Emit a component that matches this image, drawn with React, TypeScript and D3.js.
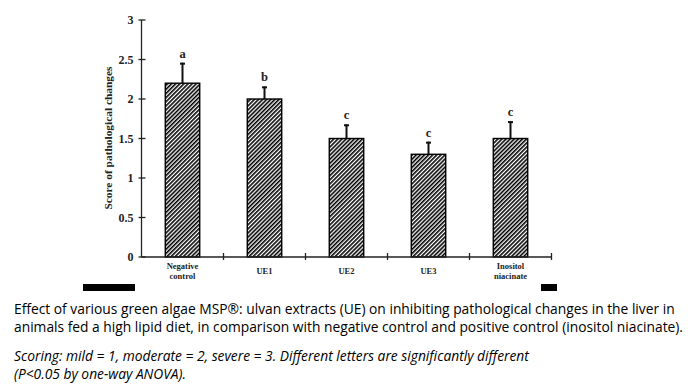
import * as d3 from "d3";

const categories = ["Negative control", "UE1", "UE2", "UE3", "Inositol niacinate"];
const labelLines = [["Negative", "control"], ["UE1"], ["UE2"], ["UE3"], ["Inositol", "niacinate"]];
const scores = [2.2, 2.0, 1.5, 1.3, 1.5];
const errors = [0.26, 0.16, 0.18, 0.16, 0.22];
const letters = ["a", "b", "c", "c", "c"];
const yTicks = [0, 0.5, 1, 1.5, 2, 2.5, 3];

const captionLines = [
  "Effect of various green algae MSP®: ulvan extracts (UE) on inhibiting pathological changes in the liver in",
  "animals fed a high lipid diet, in comparison with negative control and positive control (inositol niacinate).",
];
const noteLines = [
  "Scoring: mild = 1, moderate = 2, severe = 3. Different letters are significantly different",
  "(P<0.05 by one-way ANOVA).",
];

const WIDTH = 695;
const HEIGHT = 390;
const X0 = 141.5;
const X1 = 551.5;
const Y0 = 257;
const Y1 = 20;
const HATCH = 2.9;
const SERIF = "'Liberation Serif', 'Times New Roman', serif";
const SANS = "'Open Sans', sans-serif";

export default function App() {
  const xScale = d3.scaleBand<string>().domain(categories).range([X0, X1]);
  const yScale = d3.scaleLinear().domain([0, 3]).range([Y0, Y1]);
  const bw = xScale.bandwidth();
  const barW = bw * 0.42;

  return (
    <div style={{ position: "absolute", left: 0, top: 0 }}>
      <svg width={WIDTH} height={HEIGHT} style={{ display: "block", background: "#fff" }}>
        <defs>
          <pattern
            id="hatch"
            patternUnits="userSpaceOnUse"
            width={HATCH}
            height={HATCH}
            patternTransform="rotate(45)"
          >
            <rect width={HATCH} height={HATCH} fill="#fff" />
            <rect x={0} y={0} width={HATCH * 0.55} height={HATCH} fill="#000" />
          </pattern>
        </defs>

        {/* bars */}
        {categories.map((c, i) => {
          const cx = (xScale(c) ?? 0) + bw / 2;
          const top = yScale(scores[i]);
          const errTop = yScale(scores[i] + errors[i]);
          return (
            <g key={c}>
              <line x1={cx} x2={cx} y1={top} y2={errTop} stroke="#111" strokeWidth={2} />
              <line x1={cx - 2.5} x2={cx + 2.5} y1={errTop + 1} y2={errTop + 1} stroke="#111" strokeWidth={2} />
              <rect
                x={cx - barW / 2}
                y={top}
                width={barW}
                height={Y0 - top}
                fill="url(#hatch)"
                stroke="#000"
                strokeWidth={1.4}
              />
              <text
                x={cx}
                y={errTop - 5}
                textAnchor="middle"
                fontFamily={SERIF}
                fontWeight="bold"
                fontSize={12.5}
                fill="#222"
              >
                {letters[i]}
              </text>
              {labelLines[i].map((l, j) => (
                <text
                  key={j}
                  x={cx}
                  y={labelLines[i].length === 1 ? 273.5 : 268.5 + j * 10.5}
                  textAnchor="middle"
                  fontFamily={SERIF}
                  fontWeight="bold"
                  fontSize={8.5}
                  fill="#222"
                >
                  {l}
                </text>
              ))}
            </g>
          );
        })}

        {/* y axis */}
        <line x1={X0} x2={X0} y1={Y1} y2={Y0} stroke="#222" strokeWidth={1.3} />
        {yTicks.map((t) => (
          <g key={t} transform={`translate(0,${yScale(t)})`}>
            <line x1={X0 - 3} x2={X0 + 4} stroke="#222" strokeWidth={1.3} />
            <text
              x={X0 - 8}
              dy="0.35em"
              textAnchor="end"
              fontFamily={SERIF}
              fontWeight="bold"
              fontSize={12}
              fill="#222"
            >
              {t}
            </text>
          </g>
        ))}
        <text
          transform={`translate(112,138) rotate(-90)`}
          textAnchor="middle"
          fontFamily={SERIF}
          fontWeight="bold"
          fontSize={11.4}
          fill="#222"
        >
          Score of pathological changes
        </text>

        {/* x axis */}
        <line x1={X0} x2={X1} y1={Y0} y2={Y0} stroke="#222" strokeWidth={1.3} />
        {categories.map((c) => {
          const x = (xScale(c) ?? 0) + bw;
          return <line key={c} x1={x} x2={x} y1={Y0 - 4} y2={Y0 + 3} stroke="#222" strokeWidth={1.3} />;
        })}

        {/* black blocks */}
        <rect x={83} y={284} width={52} height={7} fill="#000" />
        <rect x={541} y={284} width={16} height={7} fill="#000" />

        {/* caption */}
        {captionLines.map((l, i) => (
          <text key={l} x={14} y={314 + i * 17.5} fontFamily={SANS} fontSize={13.8} fill="#000">
            {l}
          </text>
        ))}
        {noteLines.map((l, i) => (
          <text key={l} x={14} y={361 + i * 17.5} fontFamily={SANS} fontSize={13.8} fontStyle="italic" fill="#000">
            {l}
          </text>
        ))}
      </svg>
    </div>
  );
}
